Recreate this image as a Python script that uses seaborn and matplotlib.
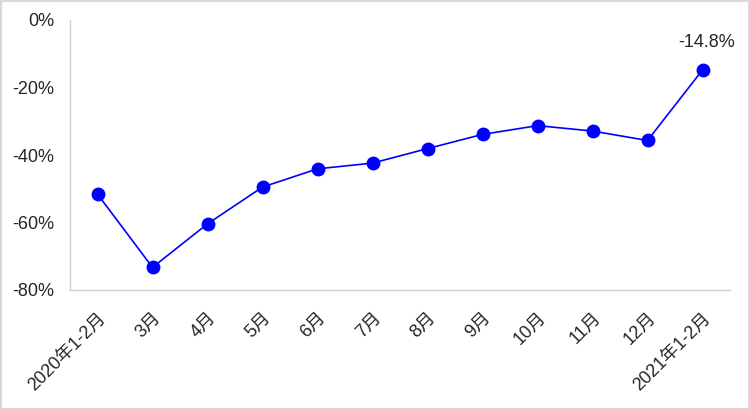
import matplotlib
matplotlib.use("Agg")
import matplotlib.pyplot as plt
import seaborn as sns
import pandas as pd
from matplotlib.patches import Rectangle
from matplotlib.ticker import FixedLocator

sns.set_style("white")
plt.rcParams['font.family'] = ['Liberation Sans', 'Noto Sans CJK SC', 'DejaVu Sans']

months = ["2020年1-2月", "3月", "4月", "5月", "6月", "7月", "8月", "9月",
          "10月", "11月", "12月", "2021年1-2月"]
growth = [-51.6, -73.3, -60.4, -49.5, -44.1, -42.4, -38.1, -33.9,
          -31.3, -32.9, -35.7, -14.8]
y_ticks = [0, -20, -40, -60, -80]

df = pd.DataFrame({"pos": range(len(months)), "growth": growth})

fig = plt.figure(figsize=(7.5, 4.09), dpi=100)
ax = fig.add_axes([70 / 750, 119 / 409, 660 / 750, 270 / 409])

sns.lineplot(data=df, x="pos", y="growth", ax=ax, color="#0000FF",
             linewidth=1.2, marker="o", markersize=10, markeredgewidth=0)

ax.set_xlim(-0.5, len(months) - 0.5)
ax.set_ylim(-80, 0)
ax.set_yticks(y_ticks)
ax.set_yticklabels([f"{t}%" for t in y_ticks], fontsize=13)
ax.set_xticks(range(len(months)))
ax.set_xticklabels(months, rotation=45, ha="right", rotation_mode="anchor", fontsize=13)
ax.xaxis.set_minor_locator(FixedLocator([i - 0.5 for i in range(len(months) + 1)]))
ax.tick_params(axis="x", which="major", length=0, pad=14)
ax.tick_params(axis="x", which="minor", length=4, color="#d0d0d0", width=1)
ax.tick_params(axis="y", length=4, color="#d0d0d0", width=1, pad=7, direction="out")
ax.set_xlabel("")
ax.set_ylabel("")

for s in ["top", "right"]:
    ax.spines[s].set_visible(False)
for s in ["left", "bottom"]:
    ax.spines[s].set_color("#d0d0d0")
    ax.spines[s].set_linewidth(1)

ax.annotate(f"{growth[-1]}%", xy=(len(months) - 1, growth[-1]),
            xytext=(3, 20), textcoords="offset points",
            ha="center", va="center", fontsize=13)

fig.patches.append(Rectangle((0.001, 0.001), 0.998, 0.997, transform=fig.transFigure,
                             fill=False, edgecolor="#d9d9d9", linewidth=1.5))

fig.savefig("out.png", dpi=100)
